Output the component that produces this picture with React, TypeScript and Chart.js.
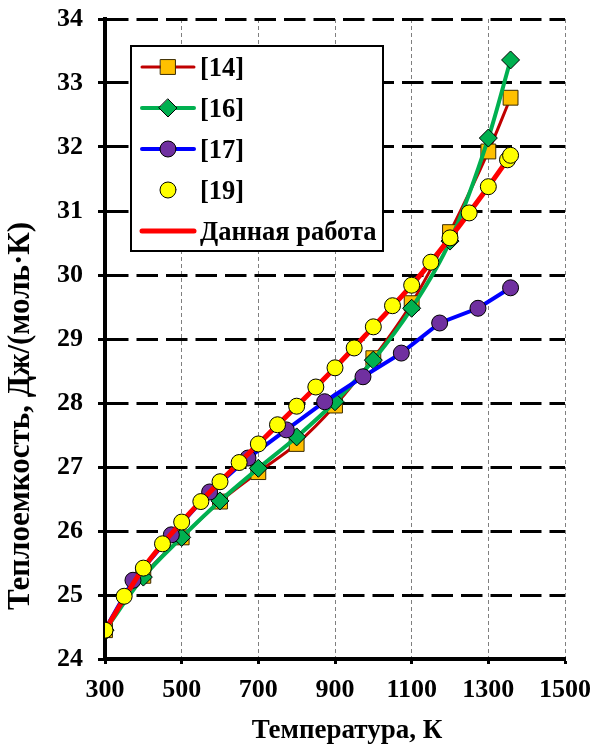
import React, { useEffect, useRef } from "react";
import { Chart, registerables } from "chart.js";

Chart.register(...registerables);

const FONT = '"Liberation Serif", "Times New Roman", serif';

const xTickValues = [300, 500, 700, 900, 1100, 1300, 1500];
const yTickValues = [24, 25, 26, 27, 28, 29, 30, 31, 32, 33, 34];

const xTitle = "Температура, К";
const yTitle = "Теплоемкость, Дж/(моль·К)";

const label14 = "[14]";
const temp14 = [300, 400, 500, 600, 700, 800, 900, 1000, 1100, 1200, 1300, 1358];
const cp14 = [24.45, 25.3, 25.9, 26.46, 26.92, 27.36, 27.96, 28.7, 29.56, 30.67, 31.93, 32.77];

const label16 = "[16]";
const temp16 = [300, 400, 500, 600, 700, 800, 900, 1000, 1100, 1200, 1300, 1358];
const cp16 = [24.45, 25.28, 25.9, 26.47, 26.98, 27.47, 28.02, 28.67, 29.48, 30.53, 32.14, 33.36];

const label17 = "[17]";
const temp17 = [298, 373, 473, 573, 673, 773, 873, 973, 1073, 1173, 1273, 1358];
const cp17 = [24.44, 25.23, 25.94, 26.61, 27.14, 27.58, 28.02, 28.41, 28.78, 29.25, 29.48, 29.8];

const label19 = "[19]";
const temp19 = [300, 350, 400, 450, 500, 550, 600, 650, 700, 750, 800, 850, 900, 950, 1000, 1050, 1100, 1150, 1200, 1250, 1300, 1350, 1358];
const cp19 = [24.45, 24.98, 25.42, 25.8, 26.14, 26.46, 26.77, 27.07, 27.36, 27.66, 27.95, 28.25, 28.55, 28.86, 29.19, 29.52, 29.84, 30.2, 30.58, 30.97, 31.38, 31.8, 31.87];

const labelWork = "Данная работа";
const tempWork = [300, 400, 500, 600, 700, 800, 900, 1000, 1100, 1200, 1300, 1358];
const cpWork = [24.45, 25.42, 26.14, 26.77, 27.36, 27.95, 28.55, 29.19, 29.84, 30.58, 31.38, 31.87];

const toPoints = (xs: number[], ys: number[]) => xs.map((x, i) => ({ x, y: ys[i] }));

function drawMarker(ctx: CanvasRenderingContext2D, style: string, r: number, x: number, y: number) {
  ctx.beginPath();
  if (style === "circle") {
    ctx.arc(x, y, r, 0, Math.PI * 2);
  } else if (style === "rect") {
    const s = r * Math.SQRT1_2;
    ctx.rect(x - s, y - s, 2 * s, 2 * s);
  } else if (style === "rectRot") {
    ctx.moveTo(x, y - r);
    ctx.lineTo(x + r, y);
    ctx.lineTo(x, y + r);
    ctx.lineTo(x - r, y);
    ctx.closePath();
  }
  ctx.fill();
  ctx.stroke();
}

const titlesPlugin = {
  id: "axisTitles",
  afterDraw(chart: any) {
    const ctx = chart.ctx;
    ctx.save();
    ctx.fillStyle = "#000000";
    ctx.textAlign = "center";
    ctx.textBaseline = "middle";
    ctx.font = `bold 27px ${FONT}`;
    ctx.fillText(xTitle, 347, 731);
    ctx.translate(21, 416);
    ctx.rotate(-Math.PI / 2);
    ctx.font = `bold 31px ${FONT}`;
    ctx.fillText(yTitle, 0, 0);
    ctx.restore();
  },
};

const legendPlugin = {
  id: "boxLegend",
  afterDraw(chart: any) {
    const ctx = chart.ctx;
    const left = 131, top = 46, right = 383, bottom = 251;
    ctx.save();
    ctx.fillStyle = "#ffffff";
    ctx.fillRect(left, top, right - left, bottom - top);
    ctx.lineWidth = 2;
    ctx.strokeStyle = "#000000";
    ctx.strokeRect(left, top, right - left, bottom - top);
    const legendOrder = [4, 3, 2, 0, 1];
    const rowY = [67, 108, 149, 190, 231];
    legendOrder.forEach((di, i) => {
      const ds = chart.data.datasets[di];
      const y = rowY[i];
      if (ds.showLine !== false) {
        ctx.beginPath();
        ctx.lineCap = "round";
        ctx.strokeStyle = ds.borderColor;
        ctx.lineWidth = ds.borderWidth;
        ctx.moveTo(142, y);
        ctx.lineTo(194, y);
        ctx.stroke();
      }
      if (ds.pointRadius > 0) {
        ctx.fillStyle = ds.pointBackgroundColor;
        ctx.strokeStyle = ds.pointBorderColor;
        ctx.lineWidth = ds.pointBorderWidth;
        drawMarker(ctx, ds.pointStyle, ds.pointRadius, 168, y);
      }
      ctx.fillStyle = "#000000";
      ctx.font = `bold 26.5px ${FONT}`;
      ctx.textBaseline = "middle";
      ctx.textAlign = "left";
      ctx.fillText(ds.label, 200, y + 2);
    });
    ctx.restore();
  },
};

export default function App() {
  const ref = useRef<HTMLCanvasElement | null>(null);
  useEffect(() => {
    if (!ref.current) return;
    const chart = new Chart(ref.current, {
      type: "scatter",
      data: {
        datasets: [
          {
            label: label19,
            data: toPoints(temp19, cp19),
            showLine: false,
            pointStyle: "circle",
            pointRadius: 8,
            pointBackgroundColor: "#FFFF00",
            pointBorderColor: "#000000",
            pointBorderWidth: 1,
            order: 0,
          },
          {
            label: labelWork,
            data: toPoints(tempWork, cpWork),
            showLine: true,
            borderColor: "#FF0000",
            borderWidth: 5,
            cubicInterpolationMode: "monotone",
            pointRadius: 0,
            order: 1,
          },
          {
            label: label17,
            data: toPoints(temp17, cp17),
            showLine: true,
            borderColor: "#0000FF",
            borderWidth: 4,
            tension: 0,
            pointStyle: "circle",
            pointRadius: 8,
            pointBackgroundColor: "#7030A0",
            pointBorderColor: "#000000",
            pointBorderWidth: 1,
            order: 2,
          },
          {
            label: label16,
            data: toPoints(temp16, cp16),
            showLine: true,
            borderColor: "#00B050",
            borderWidth: 4,
            cubicInterpolationMode: "monotone",
            pointStyle: "rectRot",
            pointRadius: 9,
            pointBackgroundColor: "#00B050",
            pointBorderColor: "#000000",
            pointBorderWidth: 1,
            order: 3,
          },
          {
            label: label14,
            data: toPoints(temp14, cp14),
            showLine: true,
            borderColor: "#C00000",
            borderWidth: 3,
            cubicInterpolationMode: "monotone",
            pointStyle: "rect",
            pointRadius: 10.5,
            pointBackgroundColor: "#FFC000",
            pointBorderColor: "#3a2a00",
            pointBorderWidth: 1,
            order: 4,
          },
        ],
      },
      options: {
        responsive: false,
        animation: false,
        devicePixelRatio: 1,
        layout: { padding: { top: 19, right: 25, left: 0, bottom: 0 } },
        plugins: { legend: { display: false }, tooltip: { enabled: false } },
        scales: {
          x: {
            type: "linear",
            min: 300,
            max: 1500,
            afterBuildTicks: (s: any) => {
              s.ticks = xTickValues.map((v) => ({ value: v }));
            },
            afterFit: (s: any) => {
              s.height = 90;
              s.paddingLeft = 0;
              s.paddingRight = 0;
            },
            grid: {
              color: "#7f7f7f",
              lineWidth: 1,
              tickColor: "#000000",
              tickWidth: 3,
              tickLength: 5,
            },
            border: { color: "#000000", width: 4, dash: [4, 3] },
            ticks: {
              color: "#000000",
              font: { family: FONT, size: 26, weight: "bold" },
              padding: 11,
              maxRotation: 0,
              autoSkip: false,
              callback: (v: any) => String(v),
            },
            title: { display: false },
          },
          y: {
            type: "linear",
            min: 24,
            max: 34,
            afterBuildTicks: (s: any) => {
              s.ticks = yTickValues.map((v) => ({ value: v }));
            },
            afterFit: (s: any) => {
              s.width = 105;
              s.paddingTop = 0;
              s.paddingBottom = 0;
            },
            grid: {
              color: "#000000",
              lineWidth: 3,
              tickColor: "#000000",
              tickWidth: 3,
              tickLength: 7,
            },
            border: { color: "#000000", width: 4, dash: [21.5, 8] },
            ticks: {
              color: "#000000",
              font: { family: FONT, size: 26, weight: "bold" },
              padding: 15,
              autoSkip: false,
              callback: (v: any) => String(v),
            },
            title: { display: false },
          },
        },
      },
      plugins: [legendPlugin, titlesPlugin],
    } as any);
    return () => chart.destroy();
  }, []);
  return (
    <div style={{ position: "fixed", left: 0, top: 0, width: 590, height: 749, background: "#ffffff" }}>
      <canvas ref={ref} width={590} height={749} style={{ display: "block" }} />
    </div>
  );
}
